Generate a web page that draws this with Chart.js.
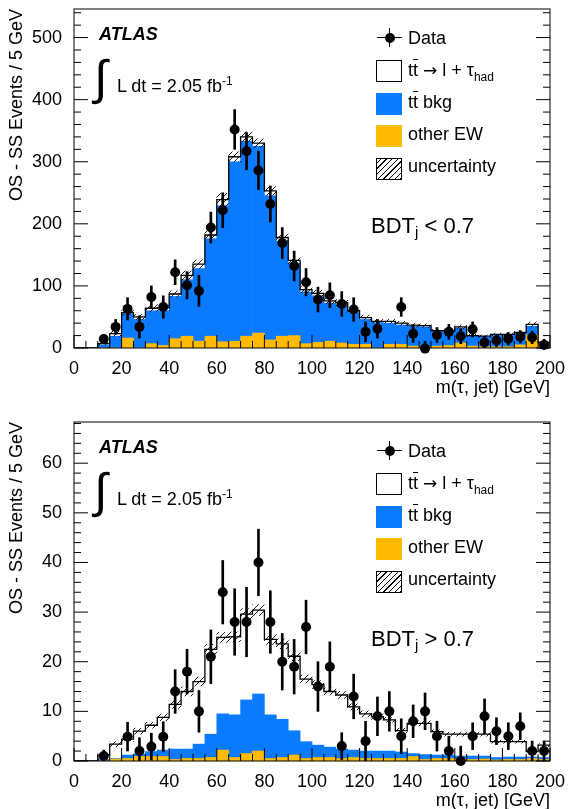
<!DOCTYPE html>
<html>
<head>
<meta charset="utf-8">
<script src="https://cdn.jsdelivr.net/npm/chart.js@4.4.0/dist/chart.umd.min.js"></script>
<style>
html, body { margin: 0; padding: 0; background: #fff; overflow: hidden; }
body { width: 570px; height: 809px; position: relative; font-family: "Liberation Sans", Arial, sans-serif; }
.panel { position: absolute; left: 0; width: 570px; height: 413px; }
.panel canvas { position: absolute; left: 0; top: 0; }
.t { position: absolute; line-height: 1; white-space: nowrap; color: #000; font-size: 18px; }
.box { position: absolute; width: 26px; height: 22px; box-sizing: border-box; }
</style>
</head>
<body>
<div class="panel" id="p1" style="top:0"><canvas id="c1" width="570" height="413"></canvas></div>
<div class="panel" id="p2" style="top:413px"><canvas id="c2" width="570" height="413"></canvas></div>
<script>
// bins: m(tau, jet) in 5 GeV steps
const binCenters = [2.5, 7.5, 12.5, 17.5, 22.5, 27.5, 32.5, 37.5, 42.5, 47.5,
  52.5, 57.5, 62.5, 67.5, 72.5, 77.5, 82.5, 87.5, 92.5, 97.5,
  102.5, 107.5, 112.5, 117.5, 122.5, 127.5, 132.5, 137.5, 142.5, 147.5,
  152.5, 157.5, 162.5, 167.5, 172.5, 177.5, 182.5, 187.5, 192.5, 197.5];
const binEdges = [0, 5, 10, 15, 20, 25, 30, 35, 40, 45, 50, 55, 60, 65, 70, 75, 80, 85, 90, 95,
  100, 105, 110, 115, 120, 125, 130, 135, 140, 145, 150, 155, 160, 165, 170, 175, 180, 185, 190, 195, 200];
const xTickValues = [0, 20, 40, 60, 80, 100, 120, 140, 160, 180, 200];

// BDT_j < 0.7
const lowData = [null, null, 14.5, 34, 63, 34, 82, 66, 122, 101, 92, 194, 222, 352, 317, 286, 232, 169, 132, 106,
  78, 85, 71, 62, 26, 31, null, 66, 23, -1, 21, 26, 19, 30, 9, 12, 15, 18, 17, 5];
const lowDataErr = [0, 0, 7, 12, 18, 18, 18, 18, 20, 22, 25, 25, 28, 32, 30, 31, 29, 25, 24, 22,
  20, 20, 20, 19, 16, 15, 0, 15, 14, 12, 12, 12, 12, 12, 10, 10, 10, 10, 10, 9];
const lowEW = [0, 0, 0, 0, 16, 0, 7, 4, 15, 19, 11, 19, 10, 11, 19, 24, 13, 19, 20, 7,
  9, 11, 8, 6, 6, 0, 6, 6, 3, 1, 3, 4, 8, 3, 2, 2, 2, 5, 21, 3];
const lowTtBkg = [0, 0, 5, 19, 39, 46, 53, 56, 68, 91, 117, 157, 219, 289, 314, 301, 232, 153, 116, 83,
  75, 61, 62, 51, 40, 41, 34, 31, 32, 33, 24, 23, 24, 16, 16, 19, 19, 19, 14, 5];
const lowSignal = [0, 0, 2, 4, 2, 4, 4, 5, 4, 7, 7, 6, 10, 8, 7, 5, 8, 6, 5, 4,
  4, 4, 3, 3, 3, 2, 3, 3, 2, 2, 1, 1, 2, 1, 1, 1, 1, 1, 3, 1];
const lowUnc = [0, 0, 2, 4, 4, 4, 5, 5, 5, 7, 7, 6, 10, 8, 8, 7, 7, 6, 5, 5,
  5, 5, 5, 4, 4, 3, 3, 3, 3, 3, 2, 2, 3, 2, 2, 2, 2, 2, 4, 2];
const lowYTickValues = [0, 100, 200, 300, 400, 500];

// BDT_j > 0.7
const highData = [null, null, 1, null, 4.9, 2, 2.9, 4.9, 14, 18, 10, 21, 34, 28, 28, 40, 28, 20, 19, 27,
  15, 19, 3, 13, 4, 9, 10, 5, 8, 10, 5, 2, 0, 5, 9, 6, 5, 7, 2, 2];
const highDataErr = [0, 0, 1.2, 0, 2.9, 2.7, 2.7, 3, 4.4, 4.5, 4.2, 5.4, 6.4, 6.7, 7, 6.7, 6.3, 5.7, 5.5, 5.4,
  5, 5, 2.7, 4.5, 4, 3.9, 4, 3.5, 3.3, 3.7, 3, 3, 3, 2.7, 3.5, 2.7, 2.7, 2.7, 2, 2];
const highEW = [0, 0, 0, 0.4, 0.5, 0.9, 0.9, 0.9, 0.3, 0.5, 0.5, 0.7, 2.2, 0.7, 1.5, 2.0, 0.5, 0.7, 1.2, 0.5,
  0.7, 0.7, 0.5, 0.7, 0.5, 0.5, 0.5, 0.5, 0.9, 0.3, 0.5, 0.5, 0.4, 0.3, 0.4, 0.2, 0.3, 0.3, 0.5, 0.3];
const highTtBkg = [0, 0, 0.3, 0.1, 0.7, 0.5, 1.0, 1.3, 2.1, 1.9, 2.9, 4.7, 7.3, 8.6, 10.8, 11.5, 8.8, 7.7, 4.9, 3.4,
  2.5, 2.1, 1.9, 1.5, 1.5, 1.5, 1.5, 1.3, 0.6, 1.0, 0.7, 0.7, 0.6, 0.7, 0.6, 0.5, 0.5, 0.5, 0.3, 0.4];
const highSignal = [0, 0, 0.9, 2.9, 3.2, 4.6, 5.3, 6.6, 9.0, 11.6, 12.6, 17.1, 15.4, 15.7, 17.3, 16.9, 15.2, 15.2, 15.0, 12.6,
  12.2, 11.2, 10.9, 8.7, 7.5, 6.9, 6.3, 4.3, 6.1, 6.3, 4.7, 4.2, 4.4, 4.4, 4.4, 3.2, 3.1, 3.1, 1.1, 2.5];
const highUnc = [0, 0, 0.3, 0.5, 0.5, 0.6, 0.6, 0.7, 0.8, 0.9, 0.9, 1.0, 1.0, 1.0, 1.1, 1.1, 1.0, 1.0, 0.9, 0.8,
  0.8, 0.7, 0.7, 0.6, 0.6, 0.6, 0.5, 0.5, 0.5, 0.5, 0.4, 0.4, 0.4, 0.4, 0.4, 0.3, 0.3, 0.3, 0.3, 0.3];
const highYTickValues = [0, 10, 20, 30, 40, 50, 60];

const FONT = '"Liberation Sans", Arial, sans-serif';
const BLUE = '#0a7bff';
const ORANGE = '#ffbb00';

Chart.defaults.font.family = FONT;
Chart.defaults.color = '#000';

function hatchPattern(ctx) {
  const c = document.createElement('canvas');
  c.width = 6; c.height = 6;
  const g = c.getContext('2d');
  g.strokeStyle = '#000';
  g.lineWidth = 0.9;
  g.beginPath();
  g.moveTo(0, 6); g.lineTo(6, 0);
  g.moveTo(-1, 1); g.lineTo(1, -1);
  g.moveTo(5, 7); g.lineTo(7, 5);
  g.stroke();
  return ctx.createPattern(c, 'repeat');
}

// ROOT style frame with inward ticks on left, right and bottom
const rootFrame = {
  id: 'rootFrame',
  afterDatasetsDraw(chart, args, opts) {
    const {ctx, chartArea: a, scales: {x, y}} = chart;
    ctx.save();
    ctx.strokeStyle = '#000';
    ctx.lineWidth = 1;
    ctx.strokeRect(a.left, a.top, a.right - a.left, a.bottom - a.top);
    ctx.beginPath();
    for (let v = x.min; v <= x.max + 1e-6; v += opts.xMinor) {
      const px = x.getPixelForValue(v);
      const len = Math.abs(v % opts.xMajor) < 1e-6 ? 13 : 7;
      ctx.moveTo(px, a.bottom);
      ctx.lineTo(px, a.bottom - len);
    }
    for (let v = 0; v <= y.max + 1e-6; v += opts.yMinor) {
      const py = y.getPixelForValue(v);
      const r = v / opts.yMajor;
      const len = Math.abs(r - Math.round(r)) < 1e-6 ? 14 : 7;
      ctx.moveTo(a.left, py); ctx.lineTo(a.left + len, py);
      ctx.moveTo(a.right, py); ctx.lineTo(a.right - len, py);
    }
    ctx.stroke();
    ctx.restore();
  }
};

function makeChart(canvasId, s) {
  const canvas = document.getElementById(canvasId);
  const ctx = canvas.getContext('2d');
  const n = binCenters.length;
  const total = binCenters.map((_, i) => s.ew[i] + s.bkg[i] + s.sig[i]);

  const dataPts = [], errPts = [], bandPts = [];
  binCenters.forEach((x, i) => {
    if (s.data[i] !== null) {
      dataPts.push({x, y: s.data[i]});
      if (s.err[i] > 0) errPts.push({x, y: [s.data[i] - s.err[i], s.data[i] + s.err[i]]});
    }
    if (total[i] > 0) bandPts.push({x, y: [total[i] - s.unc[i], total[i] + s.unc[i]]});
  });
  const stepPts = binEdges.map((x, i) => ({x, y: total[Math.min(i, n - 1)]}));
  const stackPts = arr => binCenters.map((x, i) => ({x, y: arr[i]}));

  return new Chart(ctx, {
    data: {
      datasets: [
        {type: 'line', data: dataPts, showLine: false, pointRadius: 5, pointBorderWidth: 0,
          pointBackgroundColor: '#000', stack: 'data', clip: false},
        {type: 'bar', data: errPts, backgroundColor: '#000', barThickness: 2, grouped: false, stack: 'err'},
        {type: 'line', data: stepPts, stepped: 'before', borderColor: '#000', borderWidth: 1.3,
          pointRadius: 0, fill: false, stack: 'outline'},
        {type: 'bar', data: bandPts, backgroundColor: hatchPattern(ctx), grouped: false, stack: 'unc'},
        {type: 'bar', data: stackPts(s.ew), backgroundColor: ORANGE, stack: 'mc'},
        {type: 'bar', data: stackPts(s.bkg), backgroundColor: BLUE, stack: 'mc'},
        {type: 'bar', data: stackPts(s.sig), backgroundColor: '#fff', stack: 'mc'}
      ]
    },
    options: {
      responsive: false,
      animation: false,
      events: [],
      layout: {padding: {left: 0, top: 9, right: 20, bottom: 0}},
      datasets: {bar: {barPercentage: 1, categoryPercentage: 1, borderWidth: 0}},
      plugins: {
        legend: {display: false},
        tooltip: {enabled: false},
        rootFrame: {xMinor: 5, xMajor: 20, yMinor: s.yMinor, yMajor: s.yMajor}
      },
      scales: {
        x: {
          type: 'linear', min: 0, max: 200, offset: false,
          grid: {display: false, offset: false}, border: {display: false},
          ticks: {font: {size: 18, lineHeight: 1.2}, padding: 2, autoSkip: false, maxRotation: 0},
          afterBuildTicks: sc => { sc.ticks = xTickValues.map(v => ({value: v})); },
          afterFit: sc => { sc.height = 65; sc.paddingLeft = 0; sc.paddingRight = 0; },
          title: {display: true, text: 'm(τ, jet) [GeV]', align: 'end',
            font: {size: 18, lineHeight: 1}, padding: {top: 0, bottom: 16}}
        },
        y: {
          type: 'linear', min: 0, max: s.yMax, stacked: true,
          grid: {display: false}, border: {display: false},
          ticks: {font: {size: 18, lineHeight: 1.2}, padding: 4},
          afterBuildTicks: sc => { sc.ticks = s.yTicks.map(v => ({value: v})); },
          afterFit: sc => { sc.width = 74; sc.paddingTop = 0; sc.paddingBottom = 0; },
          title: {display: true, text: 'OS - SS Events / 5 GeV', align: 'end',
            font: {size: 18, lineHeight: 1}, padding: {top: 8, bottom: 0}}
        }
      }
    },
    plugins: [rootFrame]
  });
}

// text overlays (baseline positioned)
function txt(panel, html, x, base, size, extra) {
  const el = document.createElement('div');
  el.className = 't';
  el.style.left = x + 'px';
  el.style.top = (base - 0.8465 * size) + 'px';
  el.style.fontSize = size + 'px';
  if (extra) el.style.cssText += extra;
  el.innerHTML = html;
  panel.appendChild(el);
  return el;
}
function box(panel, x, y, css) {
  const el = document.createElement('div');
  el.className = 'box';
  el.style.left = x + 'px';
  el.style.top = y + 'px';
  el.style.cssText += css;
  panel.appendChild(el);
}
function decorate(panelId, bdtSign) {
  const p = document.getElementById(panelId);
  txt(p, 'ATLAS', 99, 40, 18, 'font-weight:bold;font-style:italic;');
  txt(p, '∫', 94, 95, 48);
  txt(p, 'L dt = 2.05 fb<sup style="font-size:12px;position:relative;top:-2px;vertical-align:top;">-1</sup>', 117, 92, 18);
  txt(p, 'BDT<sub style="font-size:15px;position:relative;top:4px;vertical-align:baseline;">j</sub> ' + bdtSign + ' 0.7', 371, 234, 22);

  // legend
  const mk = document.createElement('div');
  mk.style.cssText = 'position:absolute;left:377px;top:37px;width:25px;height:1.3px;background:#000;';
  p.appendChild(mk);
  const mv = document.createElement('div');
  mv.style.cssText = 'position:absolute;left:388.8px;top:28px;width:1.5px;height:19px;background:#000;';
  p.appendChild(mv);
  const md = document.createElement('div');
  md.style.cssText = 'position:absolute;left:384.5px;top:32.5px;width:10px;height:10px;border-radius:50%;background:#000;';
  p.appendChild(md);
  txt(p, 'Data', 408, 44, 18);

  const tbar = 't<span style="text-decoration:overline;">t</span>';
  box(p, 376, 60, 'border:1px solid #000;background:#fff;');
  txt(p, tbar + ' <span style="font-family:\'DejaVu Sans\';font-size:17px;">→</span> l + τ<span style="font-size:12px;position:relative;top:5px;">had</span>', 408, 76, 18);
  box(p, 376, 92.5, 'background:' + BLUE + ';');
  txt(p, tbar + ' bkg', 408, 108, 18);
  box(p, 376, 125, 'background:' + ORANGE + ';');
  txt(p, 'other EW', 408, 140.5, 18);
  box(p, 376, 157.5, 'border:1px solid #000;background:repeating-linear-gradient(-45deg,#000 0 0.8px,#fff 0.8px 4px);');
  txt(p, 'uncertainty', 408, 172.5, 18);
}

makeChart('c1', {data: lowData, err: lowDataErr, ew: lowEW, bkg: lowTtBkg, sig: lowSignal, unc: lowUnc,
  yMax: 546, yTicks: lowYTickValues, yMinor: 20, yMajor: 100});
makeChart('c2', {data: highData, err: highDataErr, ew: highEW, bkg: highTtBkg, sig: highSignal, unc: highUnc,
  yMax: 68.3, yTicks: highYTickValues, yMinor: 2, yMajor: 10});
decorate('p1', '&lt;');
decorate('p2', '&gt;');
</script>
</body>
</html>
